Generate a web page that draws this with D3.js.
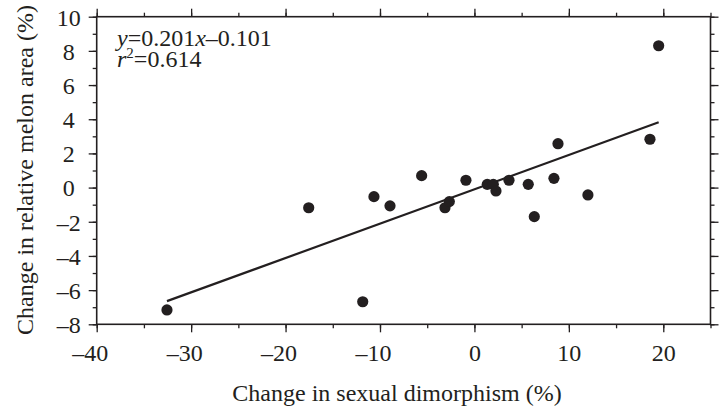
<!DOCTYPE html>
<html><head><meta charset="utf-8">
<script src="https://cdn.jsdelivr.net/npm/d3@7"></script>
<style>body{margin:0;background:#fff}svg{display:block}text{font-family:"Liberation Serif","Times New Roman",serif;fill:#231f20}</style>
</head><body><svg id="c" width="721" height="408"></svg>
<script>
const xValues = [-32.56,-17.55,-11.83,-10.64,-8.94,-5.59,-3.12,-2.66,-0.90,1.36,2.0,2.28,3.66,5.70,8.42,8.85,12.02,6.34,18.59,19.51];
const yValues = [-7.16,-1.18,-6.68,-0.53,-1.07,0.70,-1.18,-0.82,0.43,0.19,0.19,-0.20,0.43,0.19,0.54,2.57,-0.43,-1.70,2.83,8.30];
const slope = 0.201, intercept = -0.101;
const xTicks = [-40,-30,-20,-10,0,10,20];
const yTicks = [-8,-6,-4,-2,0,2,4,6,8,10];
const xTitle = "Change in sexual dimorphism (%)";
const yTitle = "Change in relative melon area (%)";

const svg = d3.select("#c");
const L=96.7, R=710.5, T=16.7, B=324.3;
const x = d3.scaleLinear().domain([-40,25]).range([L,R]);
const y = d3.scaleLinear().domain([-8,10]).range([B,T]);
const col="#231f20";
const fmt = d => d<0 ? "\u2013"+Math.abs(d) : String(d);
const minorX = d3.range(-40,26,5), minorY = d3.range(-8,11,1);
const FS = 24;

function styleAxis(g){g.select(".domain").remove();g.selectAll("line").attr("stroke",col).attr("stroke-width",1.3);}
// minor ticks
svg.append("g").attr("transform",`translate(0,${B})`).call(d3.axisBottom(x).tickValues(minorX).tickSize(4).tickFormat("")).call(styleAxis);
svg.append("g").attr("transform",`translate(0,${T})`).call(d3.axisTop(x).tickValues(minorX).tickSize(4).tickFormat("")).call(styleAxis);
svg.append("g").attr("transform",`translate(${L},0)`).call(d3.axisLeft(y).tickValues(minorY).tickSize(4).tickFormat("")).call(styleAxis);
svg.append("g").attr("transform",`translate(${R},0)`).call(d3.axisRight(y).tickValues(minorY).tickSize(4).tickFormat("")).call(styleAxis);
// major ticks
const xb = svg.append("g").attr("transform",`translate(0,${B})`).call(d3.axisBottom(x).tickValues(xTicks).tickSize(8).tickFormat(fmt)).call(styleAxis);
xb.selectAll("text").attr("dy",null).attr("y",37).attr("dx",d=>d<0?-7:0);
svg.append("g").attr("transform",`translate(0,${T})`).call(d3.axisTop(x).tickValues(xTicks).tickSize(8).tickFormat("")).call(styleAxis);
const yl = svg.append("g").attr("transform",`translate(${L},0)`).call(d3.axisLeft(y).tickValues(yTicks).tickSize(8).tickFormat(fmt)).call(styleAxis);
yl.selectAll("text").attr("x",-28).attr("text-anchor","middle").attr("dy","0.35em");
svg.append("g").attr("transform",`translate(${R},0)`).call(d3.axisRight(y).tickValues(yTicks).tickSize(8).tickFormat("")).call(styleAxis);
svg.selectAll("g text").attr("font-size",FS).attr("font-family",'"Liberation Serif",serif').attr("fill",col);
// frame
svg.append("rect").attr("x",L).attr("y",T).attr("width",R-L).attr("height",B-T).attr("fill","none").attr("stroke",col).attr("stroke-width",1.6);

// regression line
const ext = d3.extent(xValues);
svg.append("line").attr("x1",x(ext[0])).attr("y1",y(slope*ext[0]+intercept)).attr("x2",x(ext[1])).attr("y2",y(slope*ext[1]+intercept)).attr("stroke",col).attr("stroke-width",2.2);
// points
svg.append("g").selectAll("circle").data(xValues).join("circle").attr("cx",d=>x(d)).attr("cy",(d,i)=>y(yValues[i])).attr("r",5.6).attr("fill",col);

// equation
const eq = svg.append("text").attr("x",117).attr("y",46).attr("font-size",FS);
eq.append("tspan").attr("font-style","italic").text("y");
eq.append("tspan").text("=0.201");
eq.append("tspan").attr("font-style","italic").text("x");
eq.append("tspan").text("\u20130.101");
const r2 = svg.append("text").attr("x",117).attr("y",67).attr("font-size",FS);
r2.append("tspan").attr("font-style","italic").text("r");
r2.append("tspan").attr("font-size",15).attr("dy",-9).text("2");
r2.append("tspan").attr("dy",9).text("=0.614");

// titles
svg.append("text").attr("x",(233+561)/2).attr("y",401).attr("text-anchor","middle").attr("font-size",FS).text(xTitle);
svg.append("text").attr("transform","translate(33,170) rotate(-90)").attr("text-anchor","middle").attr("font-size",FS).text(yTitle);
</script></body></html>
